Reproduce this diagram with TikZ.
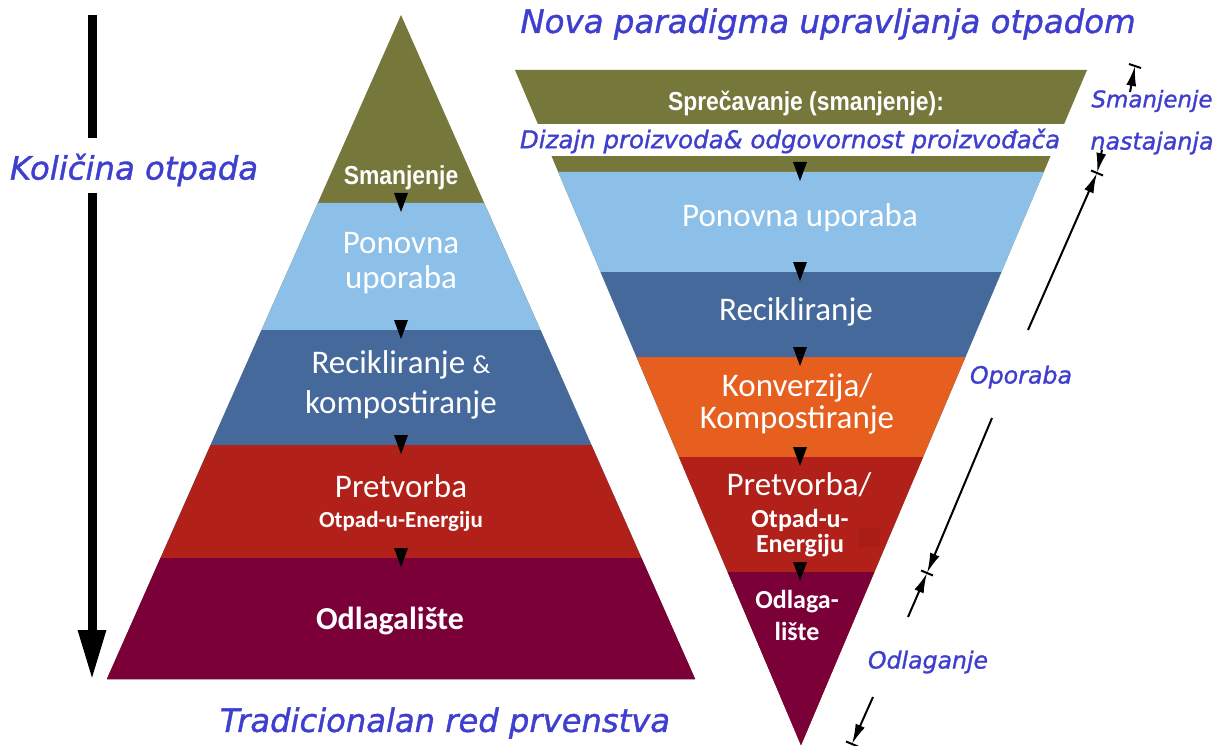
\documentclass[tikz,border=0pt]{standalone}
\usepackage{fontspec}
\setmainfont{Carlito}
\newfontfamily\narrowb{Liberation Sans}[FakeStretch=0.88]
\newfontfamily\hand{DejaVu Sans}[FakeBold=1.2]
\usetikzlibrary{arrows.meta,calc}
\definecolor{cOlive}{HTML}{76773A}
\definecolor{cLBlue}{HTML}{8DC0E8}
\definecolor{cSteel}{HTML}{46699C}
\definecolor{cOrange}{HTML}{E65F1F}
\definecolor{cRed}{HTML}{B2201A}
\definecolor{cRedDark}{HTML}{AA1C16}
\definecolor{cMaroon}{HTML}{7B0038}
\definecolor{hblue}{HTML}{3F3FCF}
\tikzset{
  lbl/.style={text=white, inner sep=0pt, font=\fontsize{33}{36}\selectfont},
  lblb/.style={text=white, inner sep=0pt, font=\bfseries\fontsize{26}{28}\selectfont},
  lblbs/.style={text=white, inner sep=0pt, font=\bfseries\fontsize{23}{25}\selectfont},
  lbln/.style={text=white, inner sep=0pt, font=\narrowb\bfseries\fontsize{26}{28}\selectfont},
  hw/.style={text=hblue, inner sep=0pt, font=\hand\itshape},
  dimarr/.style={line width=2pt, -{Latex[length=20pt 0,width=10pt 0]}},
  tickl/.style={line width=2pt},
  bigarr/.style={line width=9pt},
}
\begin{document}
\begin{tikzpicture}[x=1pt,y=-1pt]
\useasboundingbox (0,0) rectangle (1220,746);
\fill[white] (0,0) rectangle (1220,746);

% ---------- left pyramid ----------
\fill[cOlive] (401,15) -- (695,679) -- (107,679) -- cycle;
\fill[cLBlue] (317.8,203) -- (484.2,203) -- (695,679) -- (107,679) -- cycle;
\fill[cSteel] (261.5,330) -- (540.5,330) -- (695,679) -- (107,679) -- cycle;
\fill[cRed] (210.6,445) -- (591.4,445) -- (695,679) -- (107,679) -- cycle;
\fill[cMaroon] (160.6,558) -- (641.4,558) -- (695,679) -- (107,679) -- cycle;
\foreach \b in {203,330,445,558}
  \fill[black] (394,\b-10) -- (408,\b-10) -- (401,\b+9) -- cycle;

\node[lbln] (l1) at (401,178) {Smanjenje};
\node[lbl] (l2a) at (401,243) {Ponovna};
\node[lbl] (l2b) at (401,280) {uporaba};
\node[lbl] (l3a) at (401,365) {Recikliranje {\fontsize{26}{28}\selectfont\&}};
\node[lbl] (l3b) at (401,405) {kompostiranje};
\node[lbl] (l4a) at (401,486) {Pretvorba};
\node[lblbs] (l4b) at (401,521) {Otpad-u-Energiju};
\node[lblb, font=\bfseries\fontsize{32}{34}\selectfont] (l5) at (390,621) {Odlagalište};

% ---------- right (inverted) pyramid ----------
\fill[cOlive] (515,70) -- (1087,70) -- (801,745) -- cycle;
\fill[cLBlue] (558.2,172) -- (1043.8,172) -- (801,745) -- cycle;
\fill[cSteel] (600.6,272) -- (1001.4,272) -- (801,745) -- cycle;
\fill[cOrange] (636.6,357) -- (965.4,357) -- (801,745) -- cycle;
\fill[cRed] (679,457) -- (923,457) -- (801,745) -- cycle;
\fill[cRedDark] (858,528) rectangle (880,547);
\fill[cMaroon] (727.7,572) -- (874.3,572) -- (801,745) -- cycle;
\fill[white] (516,124) rectangle (1076,156);
\foreach \b in {172,272,357,457,572}
  \fill[black] (793,\b-10) -- (807,\b-10) -- (800,\b+9) -- cycle;

\node[lbln] (r1) at (806,103) {Sprečavanje (smanjenje):};
\node[hw] (r1b) at (790,141) {\resizebox{540pt}{!}{\hand\itshape Dizajn proizvoda\& odgovornost proizvođača}};
\node[lbl] (r2) at (800,218) {Ponovna uporaba};
\node[lbl] (r3) at (796,312) {Recikliranje};
\node[lbl] (r4a) at (797,388) {Konverzija/};
\node[lbl] (r4b) at (797,420) {Kompostiranje};
\node[lbl] (r5a) at (799,485) {Pretvorba/};
\node[lblb] (r5b) at (800,520) {Otpad-u-};
\node[lblb] (r5c) at (800,546) {Energiju};
\node[lblb] (r6a) at (797,602) {Odlaga-};
\node[lblb] (r6b) at (797,631) {lište};

% ---------- quantity arrow ----------
\coordinate (qa0) at (92,15);
\coordinate (qa1) at (92,138);
\coordinate (qa2) at (92,193);
\coordinate (qa3) at (92,680);
\draw[bigarr] (qa0) -- (qa1);
\draw[bigarr, -{Triangle[length=50pt 0,width=26pt 0]}] (qa2) -- (qa3);
\node[hw] (kol) at (134,170) {\resizebox{248pt}{!}{\hand\itshape Količina otpada}};

% ---------- titles ----------
\node[hw] (title) at (828,24) {\resizebox{615pt}{!}{\hand\itshape Nova paradigma upravljanja otpadom}};
\node[hw] (trad) at (445,723) {\resizebox{450pt}{!}{\hand\itshape Tradicionalan red prvenstva}};

% ---------- dimension line ----------
\coordinate (P0) at (1135,66);
\coordinate (P0s) at (1130,92);
\coordinate (P1) at (1097,173);
\coordinate (P1s) at (1102,150);
\coordinate (P1b) at (1028,330);
\coordinate (P2a) at (992,418);
\coordinate (P2) at (927,573);
\coordinate (P2b) at (908,617);
\coordinate (P3a) at (873,697);
\coordinate (P3) at (852,744);
\draw[dimarr] (P0s) -- (P0);
\draw[dimarr] (P1s) -- (P1);
\draw[dimarr] (P1b) -- (P1);
\draw[dimarr] (P2a) -- (P2);
\draw[dimarr] (P2b) -- (P2);
\draw[dimarr] (P3a) -- (P3);
\draw[tickl] ($(P0)+(-6,-2)$) -- ($(P0)+(6,2)$);
\draw[tickl] ($(P1)+(-6,-2.5)$) -- ($(P1)+(6,2.5)$);
\draw[tickl] ($(P2)+(-6,-2.5)$) -- ($(P2)+(6,2.5)$);
\draw[tickl] ($(P3)+(-6,-2.5)$) -- ($(P3)+(6,2.5)$);

\node[hw] (sm1) at (1152,101) {\resizebox{121pt}{!}{\hand\itshape Smanjenje}};
\node[hw] (sm2) at (1152,143) {\resizebox{123pt}{!}{\hand\itshape nastajanja}};
\node[hw] (opo) at (1021,377) {\resizebox{102pt}{!}{\hand\itshape Oporaba}};
\node[hw] (odl) at (928,662) {\resizebox{120pt}{!}{\hand\itshape Odlaganje}};
\end{tikzpicture}
\end{document}
